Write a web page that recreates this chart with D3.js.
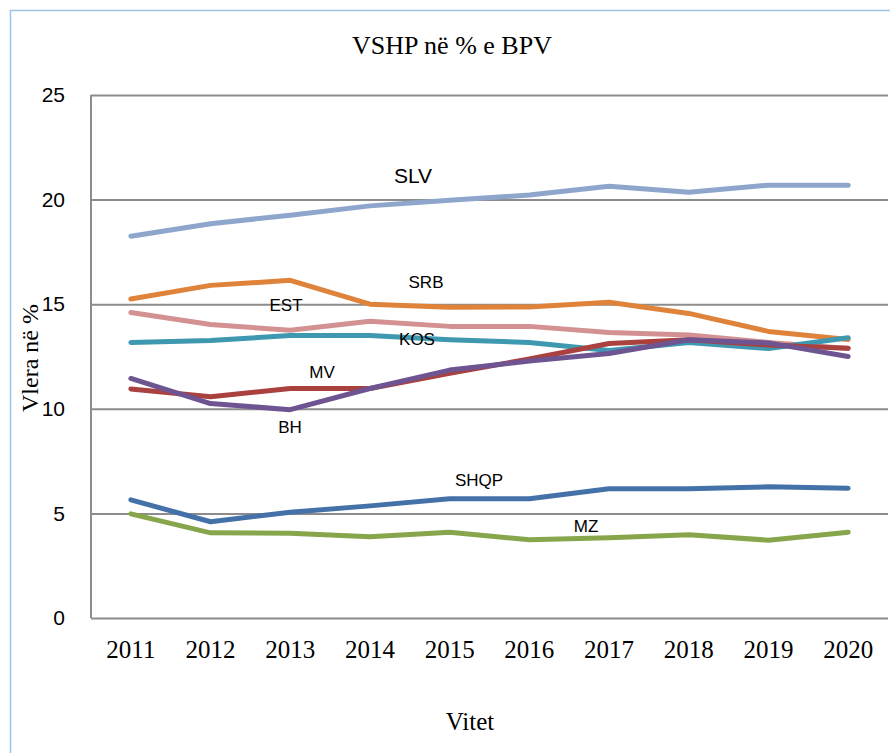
<!DOCTYPE html>
<html>
<head>
<meta charset="utf-8">
<script src="https://cdn.jsdelivr.net/npm/d3@7"></script>
<style>
  body { margin: 0; background: #fff; }
  svg { display: block; }
</style>
</head>
<body>
<div id="chart-area"></div>
<script>
// DATA
var years = ["2011", "2012", "2013", "2014", "2015", "2016", "2017", "2018", "2019", "2020"];
var yTicks = [0, 5, 10, 15, 20, 25];

var slv  = [18.25, 18.85, 19.25, 19.7, 19.97, 20.22, 20.64, 20.35, 20.69, 20.69];
var srb  = [15.25, 15.9, 16.14, 15.0, 14.85, 14.87, 15.09, 14.56, 13.7, 13.31];
var est  = [14.6, 14.03, 13.75, 14.18, 13.94, 13.94, 13.65, 13.53, 13.17, 12.88];
var kos  = [13.17, 13.27, 13.5, 13.5, 13.3, 13.17, 12.79, 13.17, 12.88, 13.4];
var mv   = [10.95, 10.58, 10.97, 10.97, 11.7, 12.38, 13.12, 13.3, 13.05, 12.9];
var bh   = [11.45, 10.25, 9.96, 10.97, 11.85, 12.28, 12.64, 13.3, 13.15, 12.5];
var shqp = [5.65, 4.6, 5.06, 5.36, 5.7, 5.7, 6.18, 6.18, 6.27, 6.2];
var mz   = [4.98, 4.07, 4.05, 3.88, 4.1, 3.74, 3.84, 3.98, 3.72, 4.1];

var seriesNames = ["SHQP", "MZ", "SLV", "SRB", "EST", "KOS", "MV", "BH"];
var seriesData = [shqp, mz, slv, srb, est, kos, mv, bh];
var seriesColors = ["#4472a8", "#87a64b", "#8ea6cc", "#e0833a", "#d39192", "#3d98b0", "#a9413f", "#6e5491"];

// label placement (x center, baseline y, font size)
var labelPos = {
    "SLV":  [413, 183, 21],
    "SRB":  [426, 288, 17],
    "EST":  [286, 311, 17],
    "KOS":  [417, 345, 17],
    "MV":   [322, 378, 17],
    "BH":   [290, 433, 17],
    "SHQP": [479, 486, 17],
    "MZ":   [586, 532, 17]
};

// GRAPHIC'S SIZE
var W = 890, H = 753;
var plotLeft = 91, plotRight = 888, plotTop = 95, plotBottom = 618;

var svg = d3.select("#chart-area")
    .append("svg")
    .attr("width", W)
    .attr("height", H);

// outer frame (light blue)
svg.append("line")
    .attr("x1", 10.5).attr("x2", 10.5)
    .attr("y1", 10).attr("y2", H)
    .attr("stroke", "#9cc3e8").attr("stroke-width", 1.5);
svg.append("line")
    .attr("x1", 10).attr("x2", W)
    .attr("y1", 10.5).attr("y2", 10.5)
    .attr("stroke", "#9cc3e8").attr("stroke-width", 1.5);

// scales
var x = d3.scaleBand().domain(years).range([plotLeft, plotRight]).padding(0);
var y = d3.scaleLinear().domain([0, 25]).range([plotBottom, plotTop]);
var cx = function(d) { return x(d) + x.bandwidth() / 2; };

// Y axis with gridlines
var yAxis = svg.append("g")
    .attr("transform", "translate(" + plotLeft + ",0)")
    .call(d3.axisLeft(y)
        .tickValues(yTicks)
        .tickSize(-(plotRight - plotLeft))
        .tickPadding(26)
        .tickFormat(d3.format("d")));
yAxis.select(".domain").remove();
yAxis.selectAll(".tick line")
    .attr("stroke", "#8c8c8c")
    .attr("stroke-width", 2);
yAxis.selectAll(".tick text")
    .attr("font-family", "Liberation Sans, Arial, sans-serif")
    .attr("font-size", "21px")
    .attr("fill", "#000");

// left axis line
svg.append("line")
    .attr("x1", plotLeft).attr("x2", plotLeft)
    .attr("y1", plotTop).attr("y2", plotBottom)
    .attr("stroke", "#8c8c8c").attr("stroke-width", 2);

// X axis labels
var xAxis = svg.append("g")
    .attr("transform", "translate(0," + plotBottom + ")")
    .call(d3.axisBottom(x).tickSize(0).tickPadding(22));
xAxis.select(".domain").remove();
xAxis.selectAll(".tick text")
    .attr("font-family", "Liberation Serif, Times New Roman, serif")
    .attr("font-size", "25px")
    .attr("fill", "#000");

// lines
var line = d3.line()
    .x(function(d, i) { return cx(years[i]); })
    .y(function(d) { return y(d); });

seriesData.forEach(function(s, k) {
    svg.append("path")
        .datum(s)
        .attr("d", line)
        .attr("fill", "none")
        .attr("stroke", seriesColors[k])
        .attr("stroke-width", 5)
        .attr("stroke-linecap", "round")
        .attr("stroke-linejoin", "round");
});

// series labels
seriesNames.forEach(function(n) {
    var p = labelPos[n];
    svg.append("text")
        .attr("x", p[0])
        .attr("y", p[1])
        .attr("text-anchor", "middle")
        .attr("font-family", "Liberation Sans, Arial, sans-serif")
        .attr("font-size", p[2] + "px")
        .attr("fill", "#000")
        .text(n);
});

// title
svg.append("text")
    .attr("x", 452)
    .attr("y", 54)
    .attr("text-anchor", "middle")
    .attr("font-family", "Liberation Serif, Times New Roman, serif")
    .attr("font-size", "26px")
    .text("VSHP në % e BPV");

// X label
svg.append("text")
    .attr("x", 470)
    .attr("y", 730)
    .attr("text-anchor", "middle")
    .attr("font-family", "Liberation Serif, Times New Roman, serif")
    .attr("font-size", "25px")
    .text("Vitet");

// Y label
svg.append("text")
    .attr("transform", "translate(38,358) rotate(-90)")
    .attr("text-anchor", "middle")
    .attr("font-family", "Liberation Serif, Times New Roman, serif")
    .attr("font-size", "24px")
    .text("Vlera në %");
</script>
</body>
</html>
